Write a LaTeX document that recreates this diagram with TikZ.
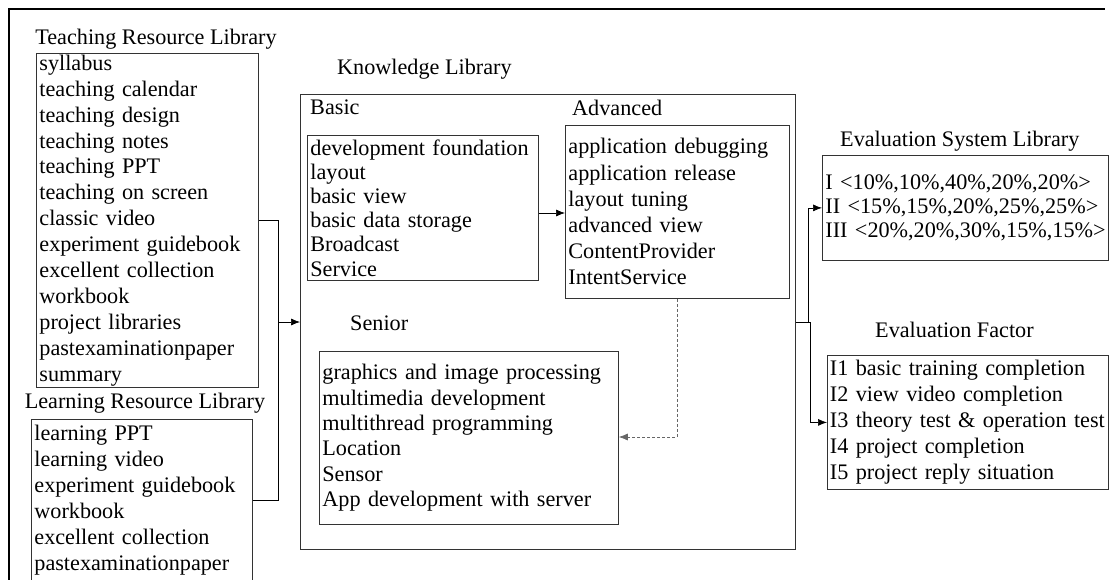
\documentclass[tikz,border=0pt]{standalone}
\usepackage{fontspec}
\setmainfont{Liberation Serif}
\usetikzlibrary{arrows.meta}
\begin{document}
\begin{tikzpicture}[x=1pt,y=-1pt,
  every node/.style={font=\fontsize{22.2}{24}\selectfont},
  lbox/.style={draw=black!80,line width=0.8pt,rectangle,anchor=north west,
    inner xsep=3pt,inner ysep=0pt,align=left},
  ttl/.style={inner sep=0pt},
  conn/.style={line width=0.7pt,-{Latex[length=9pt,width=7pt]}},
  plain/.style={line width=0.7pt},
  dconn/.style={line width=0.7pt,dash pattern=on 3pt off 2pt,-{Latex[length=9pt,width=7pt]}}
]
\useasboundingbox (0,0) rectangle (1110,580);
\fill[white] (0,0) rectangle (1110,580);
\coordinate (fbl) at (9,590);
\coordinate (ftl) at (9,9);
\coordinate (ftr) at (1105,9);
\draw[line width=2pt] (fbl) -- (ftl) -- (ftr);

% titles
\node[ttl,anchor=base] (tteach) at (156,45) {Teaching Resource Library};
\node[ttl,anchor=base] (tlearn) at (145,408) {Learning Resource Library};
\node[ttl,anchor=base west] (tknow) at (337,75) {Knowledge Library};
\node[ttl,anchor=base west] (tbasic) at (310,115) {Basic};
\node[ttl,anchor=base west] (tadv) at (572,116) {Advanced};
\node[ttl,anchor=base west] (tsen) at (350,330) {Senior};
\node[ttl,anchor=base west] (tsys) at (840,147) {Evaluation System Library};
\node[ttl,anchor=base west] (tfac) at (875,337) {Evaluation Factor};

% boxes
\node[lbox,minimum width=222pt,minimum height=334pt,text width=216pt,
  font=\fontsize{22.2}{25.9}\selectfont] (teach) at (36,53)
  {syllabus\\teaching calendar\\teaching design\\teaching notes\\teaching PPT\\teaching on screen\\classic video\\experiment guidebook\\excellent collection\\workbook\\project libraries\\pastexaminationpaper\\summary};
\node[lbox,minimum width=221pt,minimum height=162pt,text width=215pt,
  font=\fontsize{22.2}{26}\selectfont] (learn) at (31,419)
  {learning PPT\\learning video\\experiment guidebook\\workbook\\excellent collection\\pastexaminationpaper};
\node[lbox,minimum width=495pt,minimum height=455pt] (know) at (300,94) {};
\node[lbox,minimum width=231pt,minimum height=145pt,text width=225pt,
  font=\fontsize{22.2}{24.2}\selectfont] (basic) at (307,135)
  {development foundation\\layout\\basic view\\basic data storage\\Broadcast\\Service};
\node[lbox,minimum width=224pt,minimum height=173pt,text width=218pt,
  font=\fontsize{22.2}{26.2}\selectfont] (adv) at (565,125)
  {application debugging\\application release\\layout tuning\\advanced view\\ContentProvider\\IntentService};
\node[lbox,minimum width=299pt,minimum height=173pt,text width=293pt,
  font=\fontsize{22.2}{25.4}\selectfont] (senior) at (319,351)
  {graphics and image processing\\multimedia development\\multithread programming\\Location\\Sensor\\App development with server};
\node[lbox,minimum width=286pt,minimum height=105pt,text width=280pt,
  font=\fontsize{22.2}{24}\selectfont] (sys) at (822,155)
  {I~<10\%,10\%,40\%,20\%,20\%>\\II~<15\%,15\%,20\%,25\%,25\%>\\III~<20\%,20\%,30\%,15\%,15\%>};
\node[lbox,inner xsep=2.5pt,minimum width=281pt,minimum height=134pt,text width=276pt,
  font=\fontsize{22.2}{26}\selectfont] (fac) at (827,355)
  {I1 basic training completion\\I2 view video completion\\I3~theory~test~\&~operation~test\\I4 project completion\\I5 project reply situation};

% connectors
\coordinate (j1) at (278,322);
\draw[plain] (teach.east) -| (j1);
\draw[plain] (learn.east) -| (j1);
\draw[conn] (j1) -- (know.west |- j1);

\coordinate (ba) at (538,213);
\draw[conn] (basic.east |- ba) -- (adv.west |- ba);

\coordinate (dtop) at (677,298);
\coordinate (dbot) at (677,437);
\draw[dconn,draw=black!60] (adv.south -| dtop) -- (dbot) -- (senior.east |- dbot);

\coordinate (j2) at (808,322);
\coordinate (j3) at (810,322);
\draw[plain] (know.east |- j2) -- (j3);
\draw[conn] (j2) |- (sys.west);
\draw[conn] (j3) |- (fac.west);
\end{tikzpicture}
\end{document}
